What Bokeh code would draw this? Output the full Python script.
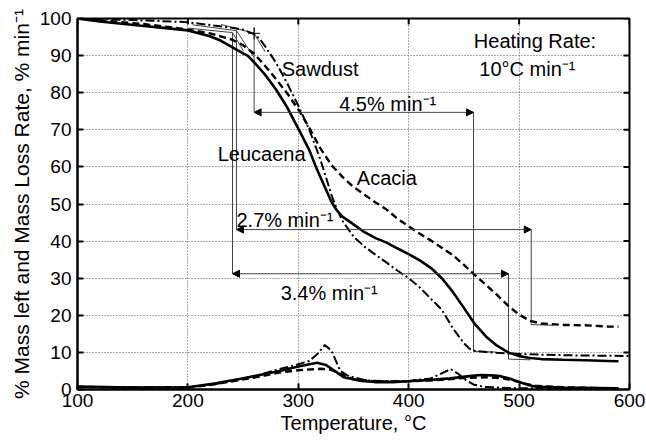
from bokeh.plotting import figure
from bokeh.models import FixedTicker, Arrow, NormalHead
from bokeh.core.properties import value
from bokeh.embed import file_html
from bokeh.resources import INLINE

FONT = "Liberation Sans"

# ---- TG curves (% mass left) ----
leu_T = [100,120,140,160,180,200,220,230,240,250,254,260,270,280,290,300,310,316,320,330,335,340,350,360,370,380,390,400,410,420,430,440,450,460,470,480,490,500,510,520,540,560,580,590]
leu_v = [100,99.2,98.6,98.0,97.4,96.8,95.2,94.0,92.3,90.6,90.0,88.2,84.8,80.8,76.0,70.3,64.5,60.0,57.3,50.6,48.2,46.6,44.5,42.4,40.8,39.6,38.0,36.5,34.8,32.8,30.0,26.3,22.0,17.6,14.3,11.8,10.0,9.0,8.5,8.2,8.0,7.9,7.7,7.6]

aca_T = [100,120,140,160,180,200,220,240,250,260,270,280,290,300,310,320,330,340,350,360,370,380,390,400,410,420,430,440,450,460,470,480,490,500,510,520,540,560,580,590]
aca_v = [100,99.5,99.0,98.5,97.8,97.0,96.0,94.3,92.8,90.5,87.2,83.6,79.8,75.5,70.5,65.0,60.5,57.3,54.6,52.5,50.4,48.5,46.0,44.0,42.0,40.2,38.2,36.2,33.6,30.8,28.2,25.5,22.6,20.2,18.5,17.8,17.4,17.3,17.0,16.9]

saw_T = [100,150,200,240,250,260,265,270,280,290,300,310,320,330,335,340,350,360,370,380,390,400,410,420,430,440,450,455,460,470,480,500,520,550,580,600]
saw_v = [100,99.6,99.0,97.5,97.0,95.8,94.5,92.5,88.0,82.5,76.5,70.0,62.0,52.5,48.5,45.5,41.2,38.5,36.3,34.2,32.0,30.0,27.5,24.5,21.5,16.5,12.5,11.0,10.4,10.1,9.9,9.6,9.4,9.2,9.1,9.0]

# ---- DTG curves (% min^-1) ----
leu_dT = [100,150,200,224,248,265,283,300,317,325,335,341,355,369,385,403,420,438,455,465,475,483,492,500,510,517,540,570,590]
leu_dv = [0.8,0.5,0.6,1.6,2.9,3.9,5.0,6.2,7.2,6.6,4.6,3.3,2.4,2.0,2.0,2.3,2.6,3.0,3.6,3.9,3.8,3.6,2.9,2.0,1.1,0.7,0.5,0.4,0.3]

aca_dT = [100,150,200,224,248,265,283,300,321,330,338,350,370,400,430,450,470,485,495,505,515,540,570,590]
aca_dv = [0.7,0.5,0.5,1.4,2.6,3.5,4.6,5.2,5.6,5.3,4.2,2.8,2.2,2.2,2.6,3.1,3.3,3.0,2.4,1.6,1.0,0.6,0.4,0.3]

saw_dT = [100,150,200,224,248,265,283,300,310,318,324,330,338,345,360,380,400,420,438,445,452,459,469,490,520,560,590]
saw_dv = [0.7,0.6,0.6,1.4,2.8,4.0,5.5,6.8,7.7,9.8,12.0,10.5,5.0,3.7,2.5,2.2,2.3,3.0,5.5,4.2,2.5,1.3,0.7,0.4,0.3,0.3,0.3]

# ---- construction lines (onset / end temperatures and levels) ----
onset_T = [240.4, 244.0, 260.0]        # Leucaena, Acacia, Sawdust
onset_top = [96.2, 96.7, 97.5]
end_T = [490.4, 511.0, 458.7]          # Leucaena, Acacia, Sawdust
end_level = [8.2, 17.5, 10.3]
arrow_level = [31.2, 43.1, 74.7]
rate_labels = ["3.4% min⁻¹", "2.7% min⁻¹", "4.5% min⁻¹"]
rate_label_T = [284, 244, 337]
rate_label_v = [25.9, 45.8, 77.0]

names = ["Sawdust", "Leucaena", "Acacia"]
name_T = [285, 227, 353]
name_v = [86.5, 63.6, 56.9]

info_lines = ["Heating Rate:", "10°C min⁻¹"]
info_T = [459, 464]
info_v = [94.0, 86.5]

x_ticks = [100, 200, 300, 400, 500, 600]
y_ticks = [0, 10, 20, 30, 40, 50, 60, 70, 80, 90, 100]

p = figure(width=646, height=442, x_range=(100, 600), y_range=(0, 100),
           output_backend="svg", toolbar_location=None,
           min_border_left=77, min_border_right=17, min_border_top=18, min_border_bottom=53)
p.background_fill_color = "white"
p.border_fill_color = "white"
p.outline_line_color = "black"
p.outline_line_width = 2

p.xaxis.ticker = FixedTicker(ticks=x_ticks)
p.yaxis.ticker = FixedTicker(ticks=y_ticks)
for ax in (p.xaxis[0], p.yaxis[0]):
    ax.major_tick_in = 6
    ax.major_tick_out = 0
    ax.minor_tick_line_color = None
    ax.axis_line_width = 2
    ax.major_tick_line_width = 2
    ax.major_label_text_font = FONT
    ax.major_label_text_font_size = "19px"
    ax.major_label_text_color = "black"
    ax.axis_label_text_font = FONT
    ax.axis_label_text_font_size = "20px"
    ax.axis_label_text_font_style = "normal"
    ax.axis_label_text_color = "black"
p.yaxis.axis_label_text_font_size = "21px"
p.xaxis.axis_label = "Temperature, °C"
p.yaxis.axis_label = "% Mass left and Mass Loss Rate, % min⁻¹"
p.xaxis.major_label_standoff = 4
p.xaxis.axis_label_standoff = 2
p.yaxis.major_label_standoff = 6
p.yaxis.axis_label_standoff = 4

p.grid.grid_line_color = "#555555"
p.grid.grid_line_dash = "1 2"
p.grid.grid_line_width = 1
p.xgrid.ticker = FixedTicker(ticks=x_ticks)
p.ygrid.ticker = FixedTicker(ticks=y_ticks)

# inward ticks on top and right sides (box style)
p.segment(x0=x_ticks, y0=[100] * len(x_ticks), x1=x_ticks, y1=[100 - 6 / 3.71] * len(x_ticks),
          line_color="black", line_width=2)
p.segment(x0=[600] * len(y_ticks), y0=y_ticks, x1=[600 - 6 / 1.104] * len(y_ticks), y1=y_ticks,
          line_color="black", line_width=2)

THIN = "#444444"
# construction lines
for i in range(3):
    p.line([onset_T[i], onset_T[i]], [arrow_level[i], onset_top[i]], line_color=THIN, line_width=1)
    p.line([end_T[i], end_T[i]], [arrow_level[i], end_level[i]], line_color=THIN, line_width=1)
    p.add_layout(Arrow(x_start=onset_T[i], y_start=arrow_level[i], x_end=end_T[i], y_end=arrow_level[i],
                       line_color=THIN, line_width=1,
                       start=NormalHead(size=7, fill_color="black", line_color="black"),
                       end=NormalHead(size=7, fill_color="black", line_color="black")))
    p.line([end_T[i], end_T[i] + 20], [end_level[i], end_level[i] - 0.2], line_color=THIN, line_width=1)
# onset tangents
p.line([onset_T[0] - 40, onset_T[0], onset_T[0] + 10], [97.4, onset_top[0], 91.2], line_color=THIN, line_width=1)
p.line([onset_T[1] - 40, onset_T[1], onset_T[1] + 16], [98.3, onset_top[1], 89.5], line_color=THIN, line_width=1)
p.line([onset_T[2] - 30, onset_T[2], onset_T[2] + 10], [98.4, onset_top[2] - 1.5, 91.0], line_color=THIN, line_width=1)
p.scatter([onset_T[2]], [onset_top[2] - 1.5], marker="cross", size=12, line_color="black", line_width=1)

# TG curves
p.line(leu_T, leu_v, line_color="black", line_width=2.6)
p.line(aca_T, aca_v, line_color="black", line_width=2.4, line_dash="7 4")
p.line(saw_T, saw_v, line_color="black", line_width=2.0, line_dash="9 3 2 3")
# DTG curves
p.line(leu_dT, leu_dv, line_color="black", line_width=2.6)
p.line(aca_dT, aca_dv, line_color="black", line_width=2.4, line_dash="7 4")
p.line(saw_dT, saw_dv, line_color="black", line_width=2.0, line_dash="9 3 2 3")

txt = dict(text_font=value(FONT), text_font_size="20px", text_color="black",
           text_align="left", text_baseline="middle")
p.text(x=name_T, y=name_v, text=names, **txt)
p.text(x=rate_label_T, y=rate_label_v, text=rate_labels, **txt)
p.text(x=info_T, y=info_v, text=info_lines, **txt)

open("out.html", "w").write(file_html(p, INLINE))
